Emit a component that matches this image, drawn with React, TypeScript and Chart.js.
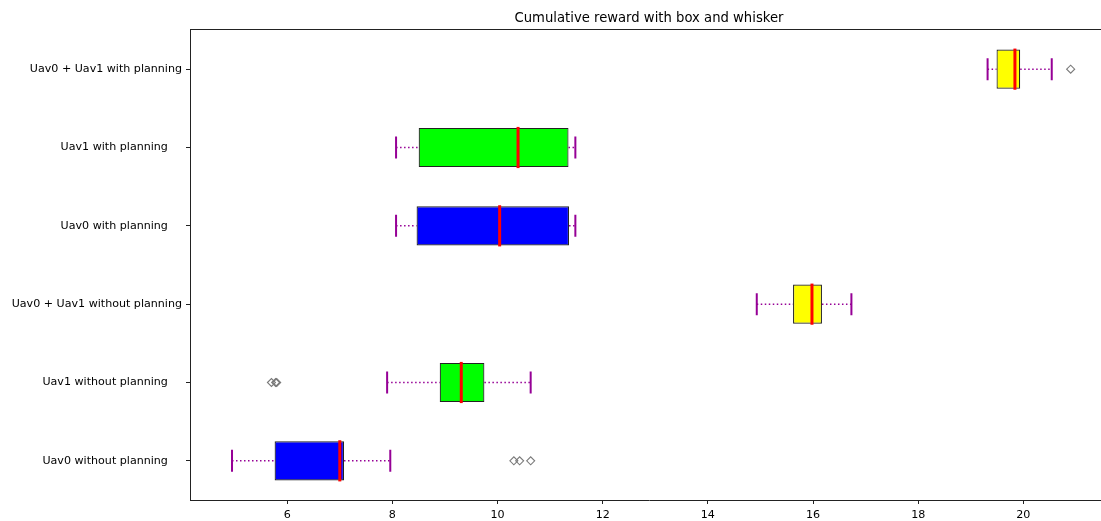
import React, { useEffect, useRef } from "react";
import { Chart, registerables } from "chart.js";

Chart.register(...registerables);

const categories = [
  "Uav0 + Uav1 with planning",
  "Uav1 with planning    ",
  "Uav0 with planning    ",
  "Uav0 + Uav1 without planning",
  "Uav1 without planning    ",
  "Uav0 without planning    ",
];
const q1 = [19.49, 8.5, 8.46, 15.62, 8.9, 5.76];
const q3 = [19.94, 11.35, 11.36, 16.17, 9.75, 7.08];
const medians = [19.84, 10.39, 10.04, 15.98, 9.31, 7.0];
const whiskerLow = [19.32, 8.07, 8.07, 14.93, 7.9, 4.95];
const whiskerHigh = [20.54, 11.48, 11.48, 16.73, 10.63, 7.96];
const outliers: number[][] = [[20.9], [], [], [], [5.7, 5.78, 5.8], [10.31, 10.42, 10.63]];
const boxColors = ["#ffff00", "#00ff00", "#0000ff", "#ffff00", "#00ff00", "#0000ff"];
const xTicks = [6, 8, 10, 12, 14, 16, 18, 20];
const title = "Cumulative reward with box and whisker";

const WHISKER = "#960096";

const boxPlugin = {
  id: "boxExtras",
  beforeDatasetsDraw(chart: any) {
    const ctx = chart.ctx;
    const xs = chart.scales.x;
    const ys = chart.scales.y;
    const step = ys.getPixelForValue(1) - ys.getPixelForValue(0);
    ctx.save();
    categories.forEach((_, i) => {
      const y = ys.getPixelForValue(i);
      const xl = xs.getPixelForValue(whiskerLow[i]);
      const xh = xs.getPixelForValue(whiskerHigh[i]);
      const b1 = xs.getPixelForValue(q1[i]);
      const b3 = xs.getPixelForValue(q3[i]);
      ctx.strokeStyle = WHISKER;
      ctx.lineWidth = 1.5;
      ctx.setLineDash([1.5, 2.5]);
      ctx.beginPath();
      ctx.moveTo(xl, y);
      ctx.lineTo(b1, y);
      ctx.moveTo(b3, y);
      ctx.lineTo(xh, y);
      ctx.stroke();
      ctx.setLineDash([]);
      ctx.lineWidth = 2;
      const ch = Math.abs(step) * 0.14;
      ctx.beginPath();
      ctx.moveTo(xl, y - ch);
      ctx.lineTo(xl, y + ch);
      ctx.moveTo(xh, y - ch);
      ctx.lineTo(xh, y + ch);
      ctx.stroke();
    });
    ctx.restore();
  },
  afterDatasetsDraw(chart: any) {
    const ctx = chart.ctx;
    const xs = chart.scales.x;
    const ys = chart.scales.y;
    const step = Math.abs(ys.getPixelForValue(1) - ys.getPixelForValue(0));
    ctx.save();
    ctx.strokeStyle = "#ff0000";
    ctx.lineWidth = 3;
    categories.forEach((_, i) => {
      const y = ys.getPixelForValue(i);
      const xm = xs.getPixelForValue(medians[i]);
      const h = step * 0.25 + 1;
      ctx.beginPath();
      ctx.moveTo(xm, y - h);
      ctx.lineTo(xm, y + h);
      ctx.stroke();
    });
    const a = chart.chartArea;
    ctx.strokeStyle = "#222";
    ctx.lineWidth = 1;
    ctx.beginPath();
    ctx.moveTo(a.left, a.top - 0.5);
    ctx.lineTo(a.right, a.top - 0.5);
    ctx.stroke();
    ctx.restore();
  },
  afterDraw(chart: any) {
    const ctx = chart.ctx;
    const a = chart.chartArea;
    ctx.save();
    ctx.fillStyle = "#000";
    ctx.font = "13.2px 'DejaVu Sans'";
    ctx.textAlign = "center";
    ctx.textBaseline = "alphabetic";
    ctx.fillText(title, (a.left + a.right) / 2, 22);
    ctx.restore();
  },
};

export default function App() {
  const ref = useRef<HTMLCanvasElement | null>(null);
  useEffect(() => {
    if (!ref.current) return;
    Chart.defaults.font.family = "'DejaVu Sans'";
    const outlierData: any[] = [];
    outliers.forEach((arr, i) => arr.forEach((v) => outlierData.push({ x: v, y: categories[i] })));
    const chart = new Chart(ref.current, {
      type: "bar",
      data: {
        labels: categories,
        datasets: [
          {
            type: "bar",
            data: q1.map((v, i) => [v, q3[i]]) as any,
            backgroundColor: boxColors,
            borderColor: "#222",
            borderWidth: 1.2,
            borderSkipped: false,
            barPercentage: 0.5,
            categoryPercentage: 1,
            grouped: false,
          } as any,
          {
            type: "scatter",
            data: outlierData,
            pointStyle: "rectRot",
            radius: 4,
            borderColor: "#7a7a7a",
            backgroundColor: "rgba(0,0,0,0)",
            borderWidth: 1.1,
            showLine: false,
          } as any,
        ],
      },
      options: {
        indexAxis: "y",
        responsive: false,
        animation: false,
        devicePixelRatio: 1,
        layout: { autoPadding: false, padding: { top: 30, left: 0, right: 0, bottom: 0 } },
        plugins: { legend: { display: false }, tooltip: { enabled: false }, title: { display: false } },
        scales: {
          x: {
            type: "linear",
            min: 4.151,
            max: 21.61,
            afterBuildTicks: (s: any) => {
              s.ticks = xTicks.map((v) => ({ value: v }));
            },
            afterFit: (s: any) => {
              s.height = 21;
            },
            grid: { drawOnChartArea: false, drawTicks: true, tickLength: 4, color: "#222" },
            border: { display: true, color: "#222", width: 1 },
            ticks: { color: "#000", font: { size: 11.1 }, padding: 4, maxRotation: 0 },
          },
          y: {
            type: "category",
            offset: true,
            afterFit: (s: any) => {
              s.width = 190;
            },
            grid: { drawOnChartArea: false, drawTicks: true, tickLength: 4, color: "#222", offset: false },
            border: { display: true, color: "#222", width: 1 },
            ticks: { color: "#000", font: { size: 11.1 }, padding: 4 },
          },
        },
      } as any,
      plugins: [boxPlugin],
    });
    return () => chart.destroy();
  }, []);
  return (
    <div style={{ position: "absolute", left: 0, top: 0, width: 1101, height: 521, overflow: "hidden", background: "#fff" }}>
      <canvas ref={ref} width={1108} height={521} style={{ display: "block" }} />
    </div>
  );
}
